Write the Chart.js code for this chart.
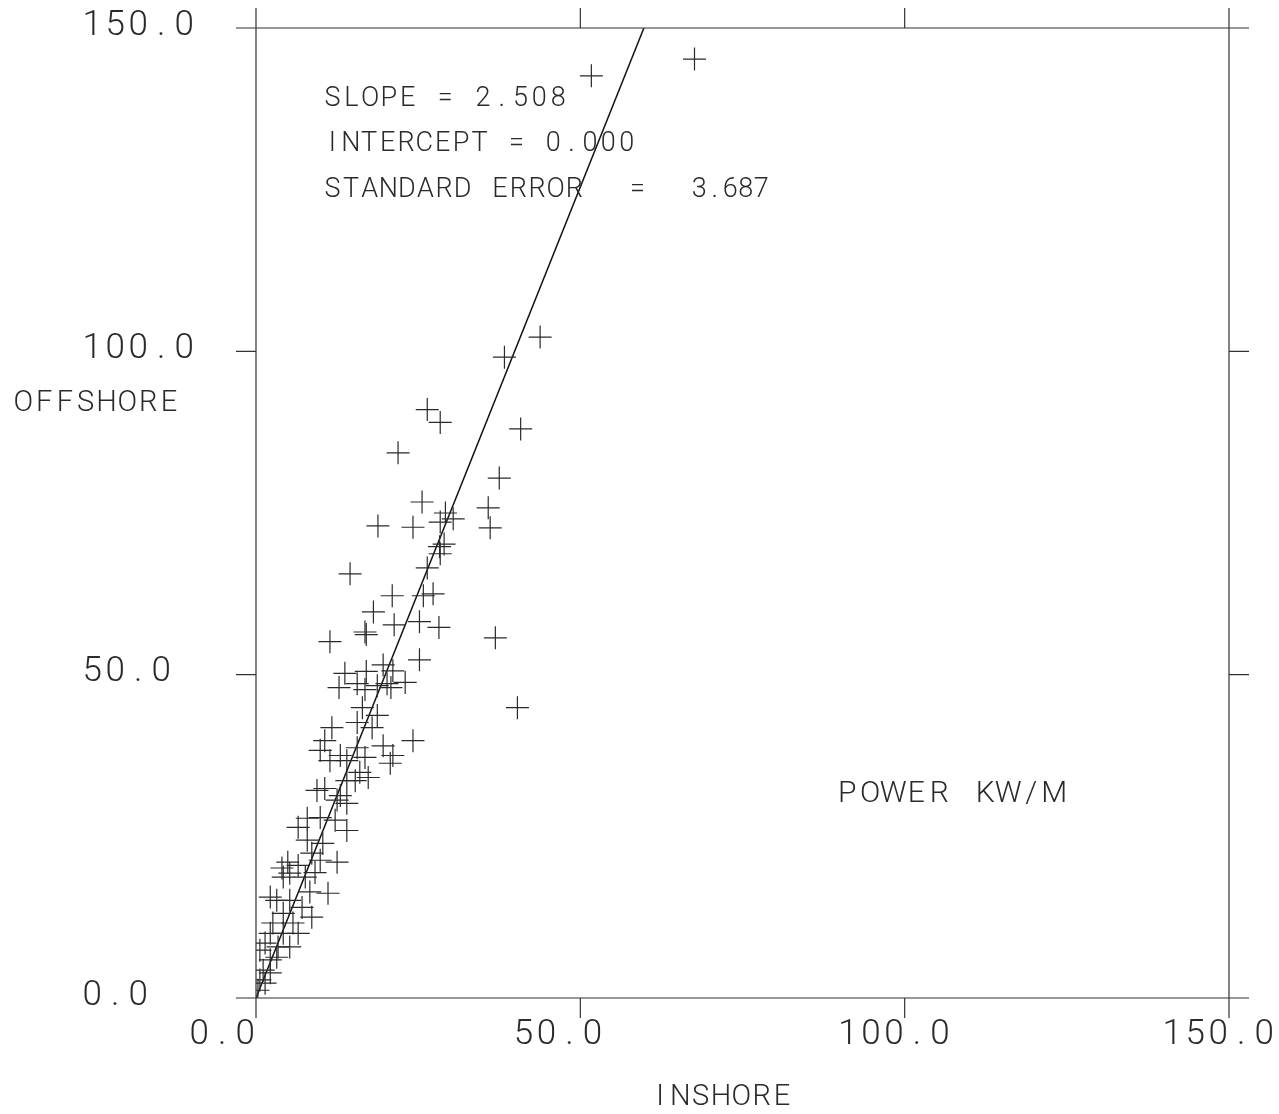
<!DOCTYPE html>
<html>
<head>
<meta charset="utf-8">
<script src="https://cdn.jsdelivr.net/npm/chart.js@4.4.1/dist/chart.umd.min.js"></script>
<style>
  body { margin: 0; background: #fff; }
  #wrap { width: 1279px; height: 1114px; }
</style>
</head>
<body>
<div id="wrap"><canvas id="myChart" width="1279" height="1114"></canvas></div>
<script>
// inshore vs offshore wave power, kW/m
const inshore = [
  51.7, 67.6, 43.8, 38.3, 26.4, 28.4, 40.8, 21.9, 37.5, 25.6,
  29.2, 35.8, 30.4, 18.8, 24.2, 28.4, 36.1, 28.3, 29.0, 28.4,
  26.4, 14.5, 21.0, 27.3, 25.8, 18.1, 25.2, 21.3, 28.2, 16.8,
  17.0, 11.4, 36.9, 25.2, 19.6, 13.7, 17.0, 21.1, 23.0, 12.8,
  16.8, 18.7, 20.8, 40.3, 16.4, 18.7, 15.6, 20.2,
  11.7, 15.6, 17.9, 24.2, 10.6, 9.9, 13.0, 15.6, 19.6, 21.1,
  20.7, 16.8, 11.4, 14.0, 16.0, 17.3, 15.3, 14.0, 10.6, 9.4,
  13.0, 14.0, 12.5, 14.0, 7.9, 6.5, 9.9, 12.2, 7.9, 10.3,
  8.6, 12.5, 9.9, 4.9, 4.0, 6.5, 9.1, 4.2, 5.2, 7.6,
  11.1, 8.3, 2.2, 3.2, 5.2, 7.1, 8.6, 4.2, 2.6, 5.7,
  2.2, 4.2, 6.5, 1.4, 3.4, 5.2, 0.6, 2.2, 3.2, 1.1,
  2.2, 0.6, 1.4, 0.3
];
const offshore = [
  142.6, 145.2, 102.2, 99.1, 91.0, 89.0, 88.0, 84.3, 80.4, 76.7,
  75.0, 75.8, 74.1, 73.0, 72.8, 73.6, 72.7, 69.8, 70.2, 68.7,
  66.5, 65.6, 62.2, 62.5, 62.2, 59.7, 58.2, 57.7, 57.3, 56.6,
  56.2, 55.1, 55.7, 52.3, 51.5, 50.2, 50.5, 50.6, 48.8, 48.0,
  47.7, 48.3, 48.0, 44.9, 44.9, 43.7, 48.6, 48.6,
  41.8, 42.6, 41.8, 39.8, 39.8, 38.3, 37.5, 38.7, 39.0, 37.5,
  36.3, 37.2, 36.7, 36.7, 34.9, 34.1, 33.6, 33.6, 32.4, 32.1,
  31.3, 30.1, 30.6, 25.9, 27.8, 26.4, 27.9, 27.5, 24.4, 23.9,
  22.4, 21.0, 21.3, 21.0, 20.1, 20.5, 19.4, 18.7, 19.3, 18.7,
  16.2, 16.4, 15.6, 15.1, 15.1, 14.0, 12.5, 13.1, 11.6, 11.6,
  10.0, 10.0, 10.0, 8.5, 7.9, 7.9, 7.4, 5.9, 6.3, 4.3,
  3.9, 2.8, 2.3, 1.2
];
const fitX = [0, 59.8];
const fitY = [0, 150];
const ticks = [0, 50, 100, 150];
const tickLabels = ["0.0", "50.0", "100.0", "150.0"];
const notes = ["SLOPE = 2.508", "INTERCEPT = 0.000", "STANDARD ERROR", "=", "3.687"];

const INK = "#2a2a2a";
const FONT = "Roboto, 'Liberation Sans', sans-serif";

// plotter text: every char in a fixed cell
function mono(ctx, text, x, y, adv, size) {
  ctx.save();
  ctx.font = "300 " + size + "px " + FONT;
  ctx.fillStyle = INK;
  ctx.textAlign = "center";
  ctx.textBaseline = "middle";
  for (let i = 0; i < text.length; i++) {
    ctx.fillText(text[i], x + i * adv + adv * 0.4, y);
  }
  ctx.restore();
}

const plotterFrame = {
  id: "plotterFrame",
  afterDatasetsDraw(chart) {
    const ctx = chart.ctx;
    const xs = chart.scales.x, ys = chart.scales.y;
    const L = xs.getPixelForValue(0), R = xs.getPixelForValue(150);
    const T = ys.getPixelForValue(150), B = ys.getPixelForValue(0);
    const ext = 20;
    ctx.save();
    ctx.strokeStyle = "#333";
    ctx.lineWidth = 1.2;
    ctx.beginPath();
    ticks.forEach((v) => {
      const px = xs.getPixelForValue(v);
      const py = ys.getPixelForValue(v);
      if (v === 0 || v === 150) {
        ctx.moveTo(px, T - ext); ctx.lineTo(px, B + ext);
        ctx.moveTo(L - ext, py); ctx.lineTo(R + ext, py);
      } else {
        ctx.moveTo(px, T - ext); ctx.lineTo(px, T);
        ctx.moveTo(px, B); ctx.lineTo(px, B + ext);
        ctx.moveTo(L - ext, py); ctx.lineTo(L, py);
        ctx.moveTo(R, py); ctx.lineTo(R + ext, py);
      }
    });
    ctx.stroke();
    ctx.restore();

    ticks.forEach((v, i) => {
      mono(ctx, tickLabels[i], 83, ys.getPixelForValue(v) - 2, 23, 35);
      mono(ctx, tickLabels[i], xs.getPixelForValue(v) - 66, 1035, 23, 35);
    });
    mono(ctx, "OFFSHORE", 15, 404, 20.8, 29);
    mono(ctx, "INSHORE", 652, 1098, 20.3, 29);
    mono(ctx, "POWER KW/M", 838, 794, 23, 30);
    mono(ctx, notes[0], 325, 99, 18.8, 27);
    mono(ctx, notes[1], 325, 144, 18.4, 27);
    mono(ctx, notes[2], 325, 190, 18.6, 27);
    mono(ctx, notes[3], 630, 190, 18.6, 27);
    mono(ctx, notes[4], 693, 190, 15.5, 27);
  }
};

const ctx = document.getElementById("myChart").getContext("2d");
const myChart = new Chart(ctx, {
  type: "scatter",
  data: {
    datasets: [
      {
        label: "power",
        data: inshore.map((x, i) => ({ x: x, y: offshore[i] })),
        pointStyle: "cross",
        pointRadius: 11.5,
        borderColor: INK,
        borderWidth: 1.2,
        backgroundColor: INK,
      },
      {
        type: "line",
        label: "fit",
        data: fitX.map((x, i) => ({ x: x, y: fitY[i] })),
        borderColor: "#111",
        borderWidth: 1.5,
        pointRadius: 0,
        fill: false,
      },
    ],
  },
  options: {
    responsive: false,
    animation: false,
    layout: { padding: { left: 256, right: 50, top: 28, bottom: 116 } },
    plugins: { legend: { display: false }, tooltip: { enabled: false } },
    scales: {
      x: { type: "linear", min: 0, max: 150, display: false },
      y: { type: "linear", min: 0, max: 150, display: false },
    },
  },
  plugins: [plotterFrame],
});
</script>
</body>
</html>
